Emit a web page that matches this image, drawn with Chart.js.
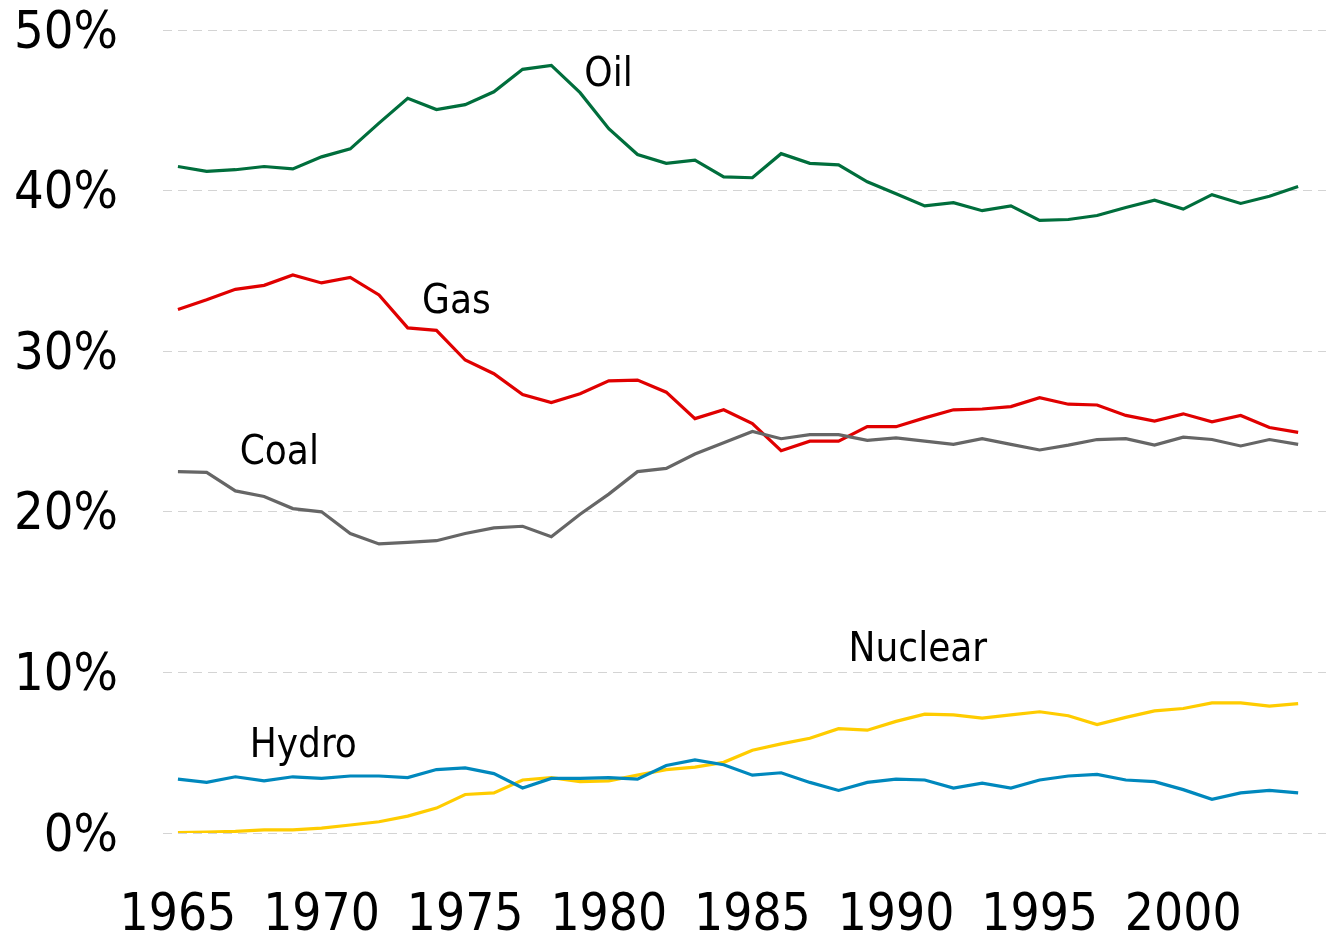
<!DOCTYPE html>
<html>
<head>
<meta charset="utf-8">
<script src="https://cdn.jsdelivr.net/npm/chart.js@4"></script>
<style>
    html, body { margin: 0; padding: 0; background: #fff; }
    #wrap { width: 1326px; height: 940px; }
</style>
</head>
<body>
<div id="wrap"><canvas id="shareChart"></canvas></div>
<script>
var years = [];
for (var yr = 1965; yr <= 2004; yr++) years.push(yr);

var xTickYears = [1965, 1970, 1975, 1980, 1985, 1990, 1995, 2000];
var yTickValues = [0, 10, 20, 30, 40, 50];

var oil = [41.5, 41.2, 41.3, 41.5, 41.35, 42.1, 42.6, 44.2, 45.75, 45.05,
           45.35, 46.15, 47.55, 47.8, 46.1, 43.85, 42.25, 41.7, 41.9, 40.85,
           40.8, 42.3, 41.7, 41.6, 40.55, 39.8, 39.05, 39.25, 38.75, 39.05,
           38.15, 38.2, 38.45, 38.95, 39.4, 38.85, 39.75, 39.2, 39.65, 40.25];

var gas = [32.6, 33.2, 33.85, 34.1, 34.75, 34.25, 34.6, 33.5, 31.45, 31.3,
           29.45, 28.6, 27.3, 26.8, 27.35, 28.15, 28.2, 27.45, 25.8, 26.35,
           25.5, 23.8, 24.4, 24.4, 25.3, 25.3, 25.85, 26.35, 26.4, 26.55,
           27.1, 26.7, 26.65, 26.0, 25.65, 26.1, 25.6, 26.0, 25.25, 24.95];

var coal = [22.5, 22.45, 21.3, 20.95, 20.2, 20.0, 18.65, 18.0, 18.1, 18.2,
            18.65, 19.0, 19.1, 18.45, 19.85, 21.1, 22.5, 22.7, 23.6, 24.3,
            25.0, 24.55, 24.8, 24.8, 24.45, 24.6, 24.4, 24.2, 24.55, 24.2,
            23.85, 24.15, 24.5, 24.55, 24.15, 24.65, 24.5, 24.1, 24.5, 24.2];

var nuclear = [0.02, 0.05, 0.1, 0.2, 0.2, 0.3, 0.5, 0.7, 1.05, 1.55,
               2.4, 2.5, 3.3, 3.45, 3.2, 3.25, 3.6, 3.95, 4.1, 4.4,
               5.15, 5.55, 5.9, 6.5, 6.4, 6.95, 7.4, 7.35, 7.15, 7.35,
               7.55, 7.3, 6.75, 7.2, 7.6, 7.75, 8.1, 8.1, 7.9, 8.05];

var hydro = [3.35, 3.15, 3.5, 3.25, 3.5, 3.4, 3.55, 3.55, 3.45, 3.95,
             4.05, 3.7, 2.8, 3.4, 3.4, 3.45, 3.35, 4.2, 4.55, 4.25,
             3.6, 3.75, 3.15, 2.65, 3.15, 3.35, 3.3, 2.8, 3.1, 2.8,
             3.3, 3.55, 3.65, 3.3, 3.2, 2.7, 2.1, 2.5, 2.65, 2.5];

// names drawn inside the plot, anchored at (year, percent) of their left/middle
var seriesNames = ["Oil", "Gas", "Coal", "Nuclear", "Hydro"];
var nameAnchorYear = [1979.15, 1973.5, 1967.15, 1988.35, 1967.5];
var nameAnchorValue = [47.15, 33.05, 23.6, 11.35, 5.35];

function toPoints(arr) {
    return arr.map(function (v, i) { return { x: years[i], y: v }; });
}

function lineSet(label, arr, color) {
    return {
        label: label,
        data: toPoints(arr),
        borderColor: color,
        backgroundColor: color,
        borderWidth: 3.2,
        pointRadius: 0,
        tension: 0,
        fill: false
    };
}

var fontFamily = "'DejaVu Sans Condensed', 'DejaVu Sans', sans-serif";

var namePlugin = {
    id: 'seriesNames',
    afterDatasetsDraw: function (chart) {
        var ctx = chart.ctx;
        var xs = chart.scales.x, ys = chart.scales.y;
        ctx.save();
        ctx.font = "40px " + fontFamily;
        ctx.fillStyle = "#000";
        ctx.textAlign = "left";
        ctx.textBaseline = "middle";
        for (var i = 0; i < seriesNames.length; i++) {
            ctx.fillText(seriesNames[i], xs.getPixelForValue(nameAnchorYear[i]), ys.getPixelForValue(nameAnchorValue[i]));
        }
        ctx.restore();
    }
};

var ctx = document.getElementById('shareChart');
var shareChart = new Chart(ctx, {
    type: 'line',
    data: {
        datasets: [
            lineSet("Hydro", hydro, "#0088bd"),
            lineSet("Nuclear", nuclear, "#ffcc00"),
            lineSet("Coal", coal, "#666666"),
            lineSet("Gas", gas, "#e00000"),
            lineSet("Oil", oil, "#006e3c")
        ]
    },
    options: {
        responsive: true,
        maintainAspectRatio: false,
        animation: false,
        layout: { padding: { top: 30, right: 0, left: 0, bottom: 0 } },
        plugins: {
            legend: { display: false },
            tooltip: { enabled: false }
        },
        scales: {
            x: {
                type: 'linear',
                min: 1964.48,
                max: 2004.97,
                afterBuildTicks: function (scale) {
                    scale.ticks = xTickYears.map(function (v) { return { value: v }; });
                },
                afterFit: function (scale) {
                    scale.height = 107;
                    scale.paddingLeft = 0;
                    scale.paddingRight = 0;
                },
                grid: { display: false, drawTicks: false },
                border: { display: false },
                ticks: {
                    autoSkip: false,
                    maxRotation: 0,
                    padding: 53,
                    color: "#000",
                    font: { family: fontFamily, size: 51 },
                    callback: function (v) { return String(v); }
                }
            },
            y: {
                min: 0,
                max: 50,
                afterBuildTicks: function (scale) {
                    scale.ticks = yTickValues.map(function (v) { return { value: v }; });
                },
                afterFit: function (scale) {
                    scale.width = 163;
                    scale.paddingTop = 0;
                    scale.paddingBottom = 0;
                },
                grid: { color: "#d4d4d4", lineWidth: 1, drawTicks: false },
                border: { display: false, dash: [9, 6] },
                ticks: {
                    padding: 45,
                    labelOffset: 4,
                    color: "#000",
                    font: { family: fontFamily, size: 52 },
                    callback: function (v) { return v + "%"; }
                }
            }
        }
    },
    plugins: [namePlugin]
});
</script>
</body>
</html>
